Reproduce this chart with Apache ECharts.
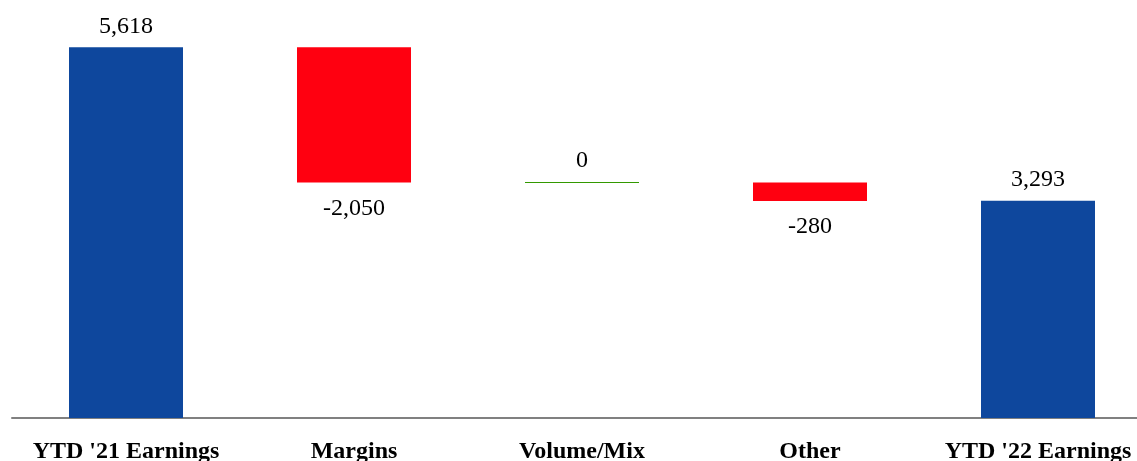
<!DOCTYPE html>
<html>
<head>
<meta charset="utf-8">
<script src="https://cdn.jsdelivr.net/npm/echarts@6/dist/echarts.min.js"></script>
<style>html,body{margin:0;padding:0;background:#fff;}#c{width:1137px;height:461px;}</style>
</head>
<body>
<div id="c"></div>
<script>
const categories = ["YTD '21 Earnings", "Margins", "Volume/Mix", "Other", "YTD '22 Earnings"];
const values = [5618, -2050, 0, -280, 3293];
const isTotal = [true, false, false, false, true];

const BLUE = '#0E479D', RED = '#FF0010', GREEN = '#339900';

// build waterfall rows [index, low, high, value, total]
let running = 0;
const rows = values.map((v, i) => {
  let low, high;
  if (isTotal[i]) { low = 0; high = v; running = v; }
  else { const start = running; running = start + v; low = Math.min(start, running); high = Math.max(start, running); }
  return [i, low, high, v, isTotal[i] ? 1 : 0];
});

const fmt = v => (v < 0 ? '-' : '') + Math.abs(v).toLocaleString('en-US');
const FONT = '"Liberation Serif", "Times New Roman", serif';

const chart = echarts.init(document.getElementById('c'));
chart.setOption({
  animation: false,
  grid: { left: 12, top: 22, bottom: 43, width: 1140, outerBoundsMode: 'none', containLabel: false },
  xAxis: {
    type: 'category', data: categories,
    axisLine: { lineStyle: { color: '#808080', width: 2 } },
    axisTick: { show: false },
    axisLabel: { color: '#000', fontFamily: FONT, fontWeight: 'bold', fontSize: 24, margin: 22, interval: 0 }
  },
  yAxis: { type: 'value', min: 0, max: 6000, show: false, splitLine: { show: false } },
  series: [{
    type: 'custom',
    data: rows,
    encode: { x: 0, y: [1, 2] },
    renderItem: function (params, api) {
      const i = api.value(0), low = api.value(1), high = api.value(2), v = api.value(3), total = api.value(4);
      const bw = api.size([1, 0])[0] * 0.5;
      const pTop = api.coord([i, high]);
      const pBot = api.coord([i, low]);
      const x = pTop[0] - bw / 2;
      const children = [];
      const font = '24px ' + FONT;
      if (v === 0) {
        children.push({ type: 'line', shape: { x1: x, y1: pTop[1], x2: x + bw, y2: pTop[1] }, style: { stroke: GREEN, lineWidth: 1 } });
        children.push({ type: 'text', style: { text: fmt(v), x: pTop[0], y: pTop[1] - 10, align: 'center', verticalAlign: 'bottom', font: font, fill: '#000' } });
      } else {
        const color = total ? BLUE : (v < 0 ? RED : GREEN);
        children.push({ type: 'rect', shape: { x: x, y: pTop[1], width: bw, height: pBot[1] - pTop[1] }, style: { fill: color } });
        if (v > 0) {
          children.push({ type: 'text', style: { text: fmt(v), x: pTop[0], y: pTop[1] - 9, align: 'center', verticalAlign: 'bottom', font: font, fill: '#000' } });
        } else {
          children.push({ type: 'text', style: { text: fmt(v), x: pTop[0], y: pBot[1] + 14, align: 'center', verticalAlign: 'top', font: font, fill: '#000' } });
        }
      }
      return { type: 'group', children: children };
    }
  }]
});
</script>
</body>
</html>
